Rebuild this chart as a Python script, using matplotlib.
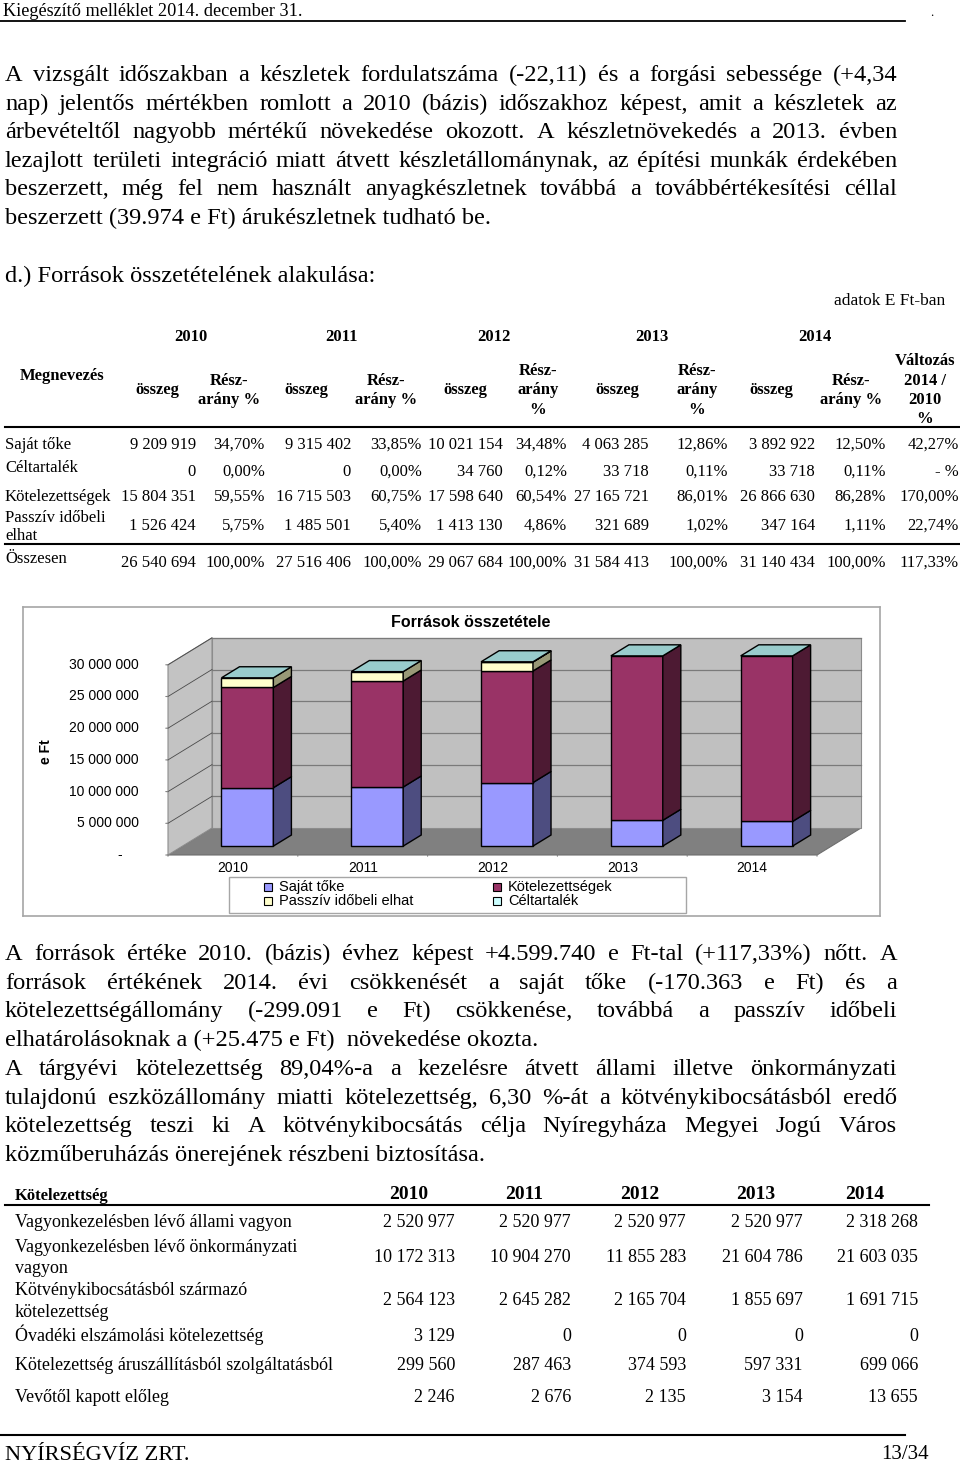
import matplotlib
matplotlib.use("Agg")
import matplotlib.pyplot as plt
from matplotlib.patches import Polygon, Rectangle
from matplotlib.transforms import offset_copy

# ── ADATOK ──
evek = ['2010', '2011', '2012', '2013', '2014']

sajat_toke      = [9209919, 9315402, 10021154, 4063285, 3892922]
celtartalek     = [0, 0, 34760, 33718, 33718]
kotelezettseg   = [15804351, 16715503, 17598640, 27165721, 26866630]
passziv         = [1526424, 1485501, 1413130, 321689, 347164]
osszesen        = [26540694, 27516406, 29067684, 31584413, 31140434]

sajat_pct   = ['34,70%', '33,85%', '34,48%', '12,86%', '12,50%']
celt_pct    = ['0,00%', '0,00%', '0,12%', '0,11%', '0,11%']
kotel_pct   = ['59,55%', '60,75%', '60,54%', '86,01%', '86,28%']
passziv_pct = ['5,75%', '5,40%', '4,86%', '1,02%', '1,11%']
ossz_pct    = ['100,00%', '100,00%', '100,00%', '100,00%', '100,00%']
valtozas    = ['42,27%', '- %', '170,00%', '22,74%', '117,33%']

y_ticks = [0, 5000000, 10000000, 15000000, 20000000, 25000000, 30000000]
y_max = 30000000

# kötelezettség részletező tábla
k_allami  = [2520977, 2520977, 2520977, 2520977, 2318268]
k_onkorm  = [10172313, 10904270, 11855283, 21604786, 21603035]
k_kotveny = [2564123, 2645282, 2165704, 1855697, 1691715]
k_ovadek  = [3129, 0, 0, 0, 0]
k_aru     = [299560, 287463, 374593, 597331, 699066]
k_vevo    = [2246, 2676, 2135, 3154, 13655]

par1 = [
    "A vizsgált időszakban a készletek fordulatszáma (-22,11) és a forgási sebessége (+4,34",
    "nap) jelentős mértékben romlott a 2010 (bázis) időszakhoz képest, amit a készletek az",
    "árbevételtől nagyobb mértékű növekedése okozott. A készletnövekedés a 2013. évben",
    "lezajlott területi integráció miatt átvett készletállománynak, az építési munkák érdekében",
    "beszerzett, még fel nem használt anyagkészletnek továbbá a továbbértékesítési céllal",
    "beszerzett (39.974 e Ft) árukészletnek tudható be.",
]
par2 = [
    "A források értéke 2010. (bázis) évhez képest +4.599.740 e Ft-tal (+117,33%) nőtt. A",
    "források értékének 2014. évi csökkenését a saját tőke (-170.363 e Ft)  és  a",
    "kötelezettségállomány (-299.091 e Ft) csökkenése, továbbá a passzív időbeli",
    "elhatárolásoknak a (+25.475 e Ft)  növekedése okozta.",
    "A tárgyévi kötelezettség 89,04%-a a kezelésre átvett állami illetve önkormányzati",
    "tulajdonú eszközállomány miatti kötelezettség, 6,30 %-át a kötvénykibocsátásból eredő",
    "kötelezettség teszi ki A kötvénykibocsátás célja Nyíregyháza Megyei Jogú Város",
    "közműberuházás önerejének részbeni biztosítása.",
]
par2_just = [True, True, True, False, True, True, True, False]

SERIF = 'Liberation Serif'
SANS = 'Liberation Sans'


def fmt(v):
    return f"{v:,}".replace(",", " ")


# ── OLDAL ──
W, H = 960, 1463
fig = plt.figure(figsize=(W / 100, H / 100), dpi=100)
page = fig.add_axes([0, 0, 1, 1], zorder=0)
page.set_xlim(0, W)
page.set_ylim(H, 0)
page.axis('off')
R = fig.canvas.get_renderer()


def width_of(s, size, **kw):
    t = page.text(0, 0, s, fontsize=size, **kw)
    w = t.get_window_extent(R).width
    t.remove()
    return w


def fit(s, target, **kw):
    return 10 * target / width_of(s, 10, **kw)


def base(y, size):
    # szöveg közepe -> alapvonal (pixelben)
    return y + 0.29 * size * 100 / 72


def T(x, y, s, size, ha='left', bold=False, family=SERIF):
    page.text(x, base(y, size), s, fontsize=size, ha=ha, va='baseline', family=family,
              fontweight='bold' if bold else 'normal')


def justify(line, y, x0, x1, size):
    words = line.split()
    ws = [width_of(w, size, family=SERIF) for w in words]
    gap = (x1 - x0 - sum(ws)) / (len(words) - 1)
    x = x0
    for w, wd in zip(words, ws):
        page.text(x, base(y, size), w, fontsize=size, ha='left', va='baseline', family=SERIF)
        x += wd + gap


# fejléc
T(3, 11, "Kiegészítő melléklet 2014. december 31.",
  fit("Kiegészítő melléklet 2014. december 31.", 299, family=SERIF))
page.plot([0, 905], [21, 21], color='black', lw=1.3)
T(930, 12, ".", 9)

# 1. bekezdés
p_size = min([fit(par1[-1], 484, family=SERIF)] +
             [fit(l, 890, family=SERIF) for l in par1[:-1]])
par1_y = [74, 103, 131, 160, 188, 217]
for i, (l, y) in enumerate(zip(par1, par1_y)):
    if i < len(par1) - 1:
        justify(l, y, 5, 897, p_size)
    else:
        T(5, y, l, p_size)

T(5, 275, "d.) Források összetételének alakulása:", p_size)
T(945, 300, "adatok E Ft-ban", 12.5, ha='right')

# ── 1. TÁBLA ──
ts = 12
year_cx = [191, 342, 494, 652, 815]
for x, ev in zip(year_cx, evek):
    T(x, 336, ev, ts, ha='center', bold=True)
T(62, 375, "Megnevezés", ts, ha='center', bold=True)
for x in [157, 306, 465, 617, 771]:
    T(x, 389, "összeg", ts, ha='center', bold=True)
for x in [229, 386, 851]:
    T(x, 380, "Rész-", ts, ha='center', bold=True)
    T(x, 399, "arány %", ts, ha='center', bold=True)
for x in [538, 697]:
    T(x, 370, "Rész-", ts, ha='center', bold=True)
    T(x, 389, "arány", ts, ha='center', bold=True)
    T(x, 409, "%", ts, ha='center', bold=True)
for y, s in zip([360, 380, 399, 418], ["Változás", "2014 /", "2010", "%"]):
    T(925, y, s, ts, ha='center', bold=True)
page.plot([5, 960], [427, 427], color='black', lw=1.5)
page.plot([5, 960], [544, 544], color='black', lw=1.5)

osszeg_r = [196, 351, 503, 649, 815]
pct_r = [265, 422, 567, 728, 886]
sorok = [
    (["Saját tőke"], [444], 444, sajat_toke, sajat_pct, valtozas[0]),
    (["Céltartalék"], [467], 471, celtartalek, celt_pct, valtozas[1]),
    (["Kötelezettségek"], [496], 496, kotelezettseg, kotel_pct, valtozas[2]),
    (["Passzív időbeli", "elhat"], [517, 535], 525, passziv, passziv_pct, valtozas[3]),
    (["Összesen"], [558], 562, osszesen, ossz_pct, valtozas[4]),
]
for labels, lys, vy, amounts, pcts, chg in sorok:
    for s, ly in zip(labels, lys):
        T(5, ly, s, ts)
    for xr, v in zip(osszeg_r, amounts):
        T(xr, vy, fmt(v), ts, ha='right')
    for xr, p in zip(pct_r, pcts):
        T(xr, vy, p, ts, ha='right')
    T(959, vy, chg, ts, ha='right')

# ── GRAFIKON ──
CH_L, CH_R, CH_T, CH_B = 23, 880, 607, 916
FRONT_X0, CAT_PX = 168, 129.8
ZERO_Y, PX_PER_UNIT = 855, 6.34e-6

ax = fig.add_axes([CH_L / W, 1 - CH_B / H, (CH_R - CH_L) / W, (CH_B - CH_T) / H], zorder=1)
ax.set_xlim(-0.5 - (FRONT_X0 - CH_L) / CAT_PX, -0.5 + (CH_R - FRONT_X0) / CAT_PX)
ax.set_ylim(-(CH_B - ZERO_Y) / PX_PER_UNIT, (ZERO_Y - CH_T) / PX_PER_UNIT)
ax.patch.set_alpha(0)
ax.set_xticks([])
ax.set_yticks([])
for sp in ax.spines.values():
    sp.set_color('#A6A6A6')
    sp.set_linewidth(1.2)

DX = 44 / CAT_PX
DY = 27 / PX_PER_UNIT
n = len(evek)
xa, xb = -0.5, n - 0.5

# padló, falak
ax.add_patch(Polygon([(xa, 0), (xb, 0), (xb + DX, DY), (xa + DX, DY)],
                     facecolor='#808080', edgecolor='#6E6E6E', lw=0.8))
ax.add_patch(Polygon([(xa + DX, DY), (xb + DX, DY), (xb + DX, DY + y_max), (xa + DX, DY + y_max)],
                     facecolor='#C0C0C0', edgecolor='#8C8C8C', lw=0.8))
ax.add_patch(Polygon([(xa, 0), (xa + DX, DY), (xa + DX, DY + y_max), (xa, y_max)],
                     facecolor='#C3C3C3', edgecolor='#8C8C8C', lw=0.8))
for v in y_ticks[1:]:
    ax.plot([xa + DX, xb + DX], [DY + v, DY + v], color='#7A7A7A', lw=0.9)
    ax.plot([xa, xa + DX], [v, DY + v], color='#4A4A4A', lw=0.6)

# tengelyfeliratok
lab_tr = offset_copy(ax.transData, fig=fig, x=-29, y=0, units='dots')
dash_tr = offset_copy(ax.transData, fig=fig, x=-48, y=0, units='dots')
for v in y_ticks:
    if v:
        ax.text(xa, v, fmt(v), transform=lab_tr, ha='right', va='center', fontsize=10, family=SANS)
    else:
        ax.text(xa, v, "-", transform=dash_tr, ha='center', va='center', fontsize=10, family=SANS)
    ax.annotate('', xy=(xa, v), xytext=(-5, 0), textcoords='offset pixels',
                arrowprops=dict(arrowstyle='-', color='#808080', lw=0.8))
xlab_tr = offset_copy(ax.transData, fig=fig, x=0, y=-13, units='dots')
for i, ev in enumerate(evek):
    ax.text(i, 0, ev, transform=xlab_tr, ha='center', va='center', fontsize=10, family=SANS)
for k in range(n + 1):
    ax.annotate('', xy=(k - 0.5, 0), xytext=(0, -4), textcoords='offset pixels',
                arrowprops=dict(arrowstyle='-', color='#808080', lw=0.8))

# oszlopok (halmozott, 3D hatás)
sorozatok = [
    ('Saját tőke', sajat_toke, '#9999FF', '#4D4D80'),
    ('Kötelezettségek', kotelezettseg, '#993366', '#4D1A33'),
    ('Passzív időbeli elhat', passziv, '#FFFFCC', '#999977'),
    ('Céltartalék', celtartalek, '#CCFFFF', '#668080'),
]
TOP_COLOR = '#99CCCC'
F0, F1, HW = 0.33, 0.74, 0.2
for i in range(n):
    cum = 0
    for _, vals, c_front, c_side in sorozatok:
        b = min(cum, y_max)
        t = min(cum + vals[i], y_max)
        cum += vals[i]
        if t <= b:
            continue
        x0, x1 = i - HW + F0 * DX, i + HW + F0 * DX
        ax.add_patch(Polygon([(x0, b + F0 * DY), (x1, b + F0 * DY), (x1, t + F0 * DY), (x0, t + F0 * DY)],
                             facecolor=c_front, edgecolor='black', lw=1.0, zorder=3))
        ax.add_patch(Polygon([(x1, b + F0 * DY), (i + HW + F1 * DX, b + F1 * DY),
                              (i + HW + F1 * DX, t + F1 * DY), (x1, t + F0 * DY)],
                             facecolor=c_side, edgecolor='black', lw=1.0, zorder=3))
    top = min(cum, y_max)
    ax.add_patch(Polygon([(i - HW + F0 * DX, top + F0 * DY), (i + HW + F0 * DX, top + F0 * DY),
                          (i + HW + F1 * DX, top + F1 * DY), (i - HW + F1 * DX, top + F1 * DY)],
                         facecolor=TOP_COLOR, edgecolor='black', lw=1.0, zorder=3))

# cím, tengelycím, jelmagyarázat
T(471, 622, "Források összetétele", 11.5, ha='center', bold=True, family=SANS)
page.text(46, 752, "e Ft", fontsize=10, rotation=90, ha='center', va='center',
          family=SANS, fontweight='bold')
page.add_patch(Rectangle((229, 877), 457, 36, facecolor='white', edgecolor='#A6A6A6', lw=1))
leg_pos = [(264, 887), (493, 887), (264, 901), (493, 901)]
for (x, y), (nev, _, c_front, _) in zip(leg_pos, sorozatok):
    page.add_patch(Rectangle((x, y - 4), 8, 8, facecolor=c_front, edgecolor='black', lw=0.8))
    T(x + 15, y, nev, 10.5, family=SANS)

# 2. bekezdés
par2_y = [953, 982, 1010, 1039, 1068, 1097, 1125, 1154]
for l, y, j in zip(par2, par2_y, par2_just):
    if j:
        justify(l, y, 5, 897, p_size)
    else:
        T(5, y, l, p_size)

# ── 2. TÁBLA ──
t2 = 13
T(15, 1195, "Kötelezettség", 12, bold=True)
for x, ev in zip([409, 524, 640, 756, 865], evek):
    T(x, 1193, ev, 14, ha='center', bold=True)
page.plot([5, 929], [1205, 1205], color='black', lw=1.5)
k_cols = [455, 571, 686, 803, 918]
k_sorok = [
    (["Vagyonkezelésben lévő állami vagyon"], [1222], 1222, k_allami),
    (["Vagyonkezelésben lévő önkormányzati", "vagyon"], [1247, 1268], 1257, k_onkorm),
    (["Kötvénykibocsátásból származó", "kötelezettség"], [1290, 1312], 1300, k_kotveny),
    (["Óvadéki elszámolási kötelezettség"], [1336], 1336, k_ovadek),
    (["Kötelezettség áruszállításból szolgáltatásból"], [1365], 1365, k_aru),
    (["Vevőtől kapott előleg"], [1397], 1397, k_vevo),
]
for labels, lys, vy, vals in k_sorok:
    for s, ly in zip(labels, lys):
        T(15, ly, s, t2)
    for xr, v in zip(k_cols, vals):
        T(xr, vy, fmt(v), t2, ha='right')

# lábléc
page.plot([0, 905], [1435, 1435], color='black', lw=1.5)
T(5, 1453, "NYÍRSÉGVÍZ ZRT.", fit("NYÍRSÉGVÍZ ZRT.", 185, family=SERIF))
T(929, 1453, "13/34", 15, ha='right')

fig.savefig('out.png', dpi=100)
